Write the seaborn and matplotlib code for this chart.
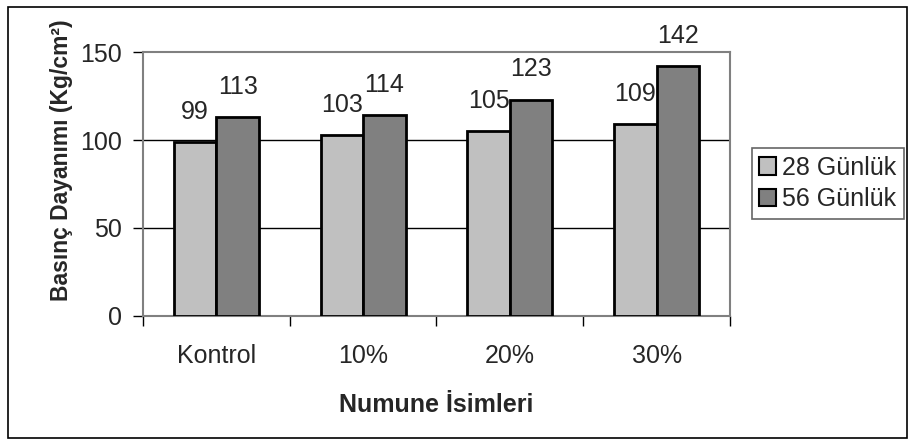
import matplotlib
matplotlib.use("Agg")
import matplotlib.pyplot as plt
import pandas as pd
import seaborn as sns
from matplotlib.patches import Rectangle


# ---- Data ----------------------------------------------------####

categories = ["Kontrol", "10%", "20%", "30%"]
days_28 = [99, 103, 105, 109]
days_56 = [113, 114, 123, 142]
series_names = ["28 Günlük", "56 Günlük"]
bar_colors = ["#C0C0C0", "#808080"]

df = pd.DataFrame({
    "sample": categories * 2,
    "value": days_28 + days_56,
    "series": [series_names[0]] * 4 + [series_names[1]] * 4,
})


# ---- Plot ----------------------------------------------------####

sns.set_style("white")
plt.rcParams["font.family"] = ["Liberation Sans", "DejaVu Sans"]

fig = plt.figure(figsize=(9.12, 4.43), dpi=100)
ax = fig.add_axes([0.1568, 0.2867, 0.8004 - 0.1568, 0.8826 - 0.2867])

sns.barplot(data=df, x="sample", y="value", hue="series", order=categories,
            hue_order=series_names, palette=bar_colors, width=0.58,
            edgecolor="black", linewidth=2, saturation=1, ax=ax, zorder=3)

ax.set_ylim(0, 150)
ax.set_xlim(-0.5, 3.5)
ax.set_yticks([0, 50, 100, 150])
ax.tick_params(axis="y", labelsize=18, length=7, width=1, color="black",
               direction="out", left=True, pad=8)
ax.set_xticks([-0.5, 0.5, 1.5, 2.5, 3.5], minor=True)
ax.set_xticks(range(4))
ax.set_xticklabels(categories)
ax.tick_params(axis="x", which="major", length=0, labelsize=18, pad=20)
ax.tick_params(axis="x", which="minor", length=7, width=1, color="black",
               direction="out", bottom=True)

# gridlines
for v in [50, 100]:
    ax.axhline(v, color="black", linewidth=1, zorder=1)

for side in ["top", "right", "left", "bottom"]:
    ax.spines[side].set_visible(True)
    ax.spines[side].set_color("#808080")
    ax.spines[side].set_linewidth(1.5)

# value labels
for cont in ax.containers:
    ax.bar_label(cont, fontsize=18, padding=13)

ax.set_xlabel("Numune İsimleri", fontsize=18, fontweight="bold", labelpad=18)
ax.set_ylabel("Basınç Dayanımı (Kg/cm²)", fontsize=16.5, fontweight="bold")
ax.yaxis.set_label_coords(-0.12, 0.59)

leg = ax.legend(loc="center left", bbox_to_anchor=(1.0375, 0.502), fontsize=18,
                frameon=True, fancybox=False, handlelength=0.68, handleheight=0.68,
                handletextpad=0.24, borderpad=0.3, labelspacing=0.3,
                borderaxespad=0)
leg.get_frame().set_edgecolor("#404040")
leg.get_frame().set_linewidth(1.2)
for h in leg.legend_handles:
    h.set_edgecolor("black")
    h.set_linewidth(1.5)

# outer chart border
fig.patches.append(Rectangle((0.009, 0.012), 0.985, 0.972, transform=fig.transFigure,
                             fill=False, edgecolor="black", linewidth=1.2))

fig.savefig("out.png", dpi=100)
